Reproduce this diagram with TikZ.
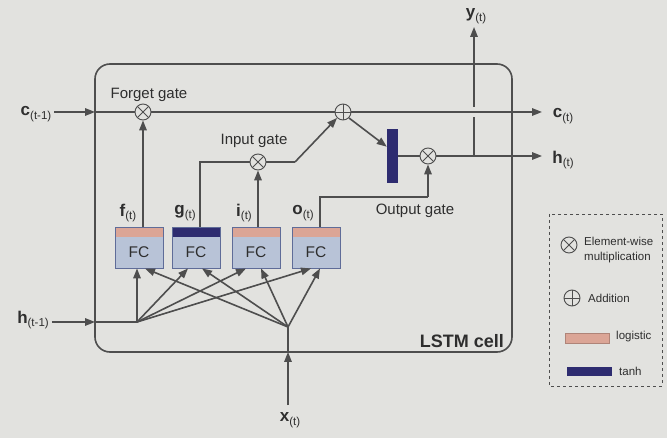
\documentclass[tikz,border=0pt]{standalone}
\usepackage{fontspec}
\setmainfont{Liberation Sans}
\usetikzlibrary{arrows.meta,calc}
\definecolor{bgc}{HTML}{E2E2DF}
\definecolor{linec}{HTML}{4E4E4E}
\definecolor{txtc}{HTML}{2E2E2E}
\definecolor{salmon}{HTML}{DBA596}
\definecolor{tanhc}{HTML}{2E2C70}
\definecolor{fcbody}{HTML}{B8C3D7}
\definecolor{fcedge}{HTML}{5F6C98}
\newcommand{\mylbl}[2]{{\fontsize{17}{17}\selectfont\bfseries #1}\raisebox{-0.7ex}{\fontsize{11.5}{11.5}\selectfont #2}}
\tikzset{
  wire/.style={draw=linec,line width=1.6pt},
  arr/.style={wire,-{Triangle[length=10pt,width=7.5pt]}},
  mult/.style={circle,draw=linec,line width=0.9pt,minimum size=16pt,inner sep=0pt,
    path picture={\draw[linec,line width=0.9pt] (path picture bounding box.north west)--(path picture bounding box.south east)
      (path picture bounding box.north east)--(path picture bounding box.south west);}},
  addop/.style={circle,draw=linec,line width=0.9pt,minimum size=16pt,inner sep=0pt,
    path picture={\draw[linec,line width=0.9pt] (path picture bounding box.north)--(path picture bounding box.south)
      (path picture bounding box.east)--(path picture bounding box.west);}},
  fcbox/.style={rectangle,draw=fcedge,line width=0.9pt,fill=fcbody,minimum width=48pt,minimum height=41pt,inner sep=0pt,
    path picture={\fill[#1] (path picture bounding box.north west) rectangle ($(path picture bounding box.north east)+(0pt,-10pt)$);}},
  fctext/.style={text=txtc,font=\fontsize{15.5}{15.5}\selectfont,inner sep=0pt},
  gatetext/.style={text=txtc,font=\fontsize{15}{16}\selectfont,inner sep=0pt},
  vlabel/.style={text=txtc,inner sep=0pt},
  legtext/.style={text=txtc,font=\fontsize{11.5}{15}\selectfont,inner sep=0pt,align=left},
}
\begin{document}
\begin{tikzpicture}[x=1pt,y=-1pt]
\fill[bgc] (0,0) rectangle (667,438);
\useasboundingbox (0,0) rectangle (667,438);

% LSTM cell
\draw[linec,line width=1.6pt,rounded corners=15pt] (95,64) rectangle (512,352);
\node[text=txtc,font=\fontsize{18}{18}\selectfont\bfseries,anchor=south east,inner sep=0pt] (celllbl) at (504,348) {LSTM cell};

% operators
\node[mult] (fx) at (143,112) {};
\node[addop] (add) at (343,112) {};
\node[mult] (ix) at (258,162) {};
\node[mult] (ox) at (428,156) {};
\node[rectangle,fill=tanhc,minimum width=11pt,minimum height=54pt,inner sep=0pt] (tanhbar) at (392.5,156) {};

\node[gatetext] (fgt) at (149,95) {Forget gate};
\node[gatetext] (igt) at (254,141) {Input gate};
\node[gatetext] (ogt) at (415,211) {Output gate};

% FC boxes
\node[fcbox=salmon] (fcf) at (139,247.5) {};
\node[fcbox=tanhc] (fcg) at (196,247.5) {};
\node[fcbox=salmon] (fci) at (256,247.5) {};
\node[fcbox=salmon] (fco) at (316,247.5) {};
\node[fctext] (tf) at ($(fcf.center)+(0pt,-5pt)$) {FC};
\node[fctext] (tg) at ($(fcg.center)+(0pt,-5pt)$) {FC};
\node[fctext] (ti) at ($(fci.center)+(0pt,-5pt)$) {FC};
\node[fctext] (to) at ($(fco.center)+(0pt,-5pt)$) {FC};

\node[vlabel] (lf) at (128,213) {\mylbl{f}{(t)}};
\node[vlabel] (lg) at (185,213) {\mylbl{g}{(t)}};
\node[vlabel] (li) at (244,213) {\mylbl{i}{(t)}};
\node[vlabel] (lo) at (303,213) {\mylbl{o}{(t)}};

% inputs / outputs labels
\node[vlabel] (cin) at (36,114) {\mylbl{c}{(t-1)}};
\node[vlabel] (hin) at (33,320) {\mylbl{h}{(t-1)}};
\node[vlabel] (xin) at (290,420) {\mylbl{x}{(t)}};
\node[vlabel] (cout) at (563,116) {\mylbl{c}{(t)}};
\node[vlabel] (hout) at (563,160) {\mylbl{h}{(t)}};
\node[vlabel] (yout) at (476,16) {\mylbl{y}{(t)}};

% coordinates
\coordinate (cinE) at (95,112);
\coordinate (hinE) at (95,322);
\coordinate (hj) at (137,322);
\coordinate (xbot) at (288,405);
\coordinate (xE) at (288,352);
\coordinate (xj) at (288,327);
\coordinate (gup) at (200,162);
\coordinate (ibend) at (295,162);
\coordinate (oup) at (320,197);
\coordinate (oright) at (428,197);
\coordinate (cend) at (542,112);
\coordinate (hend) at (542,156);
\coordinate (yj) at (474,156);
\coordinate (ygapb) at (474,117);
\coordinate (ygapt) at (474,107);
\coordinate (ytop) at (474,27);

% cell state line
\draw[arr] (cin.east |- cinE) ++(3,0) -- (cinE);
\draw[wire] (cinE) -- (fx.west);
\draw[wire] (fx.east) -- (add.west);
\draw[arr] (add.east) -- (cend);

% forget gate
\draw[arr] (fcf.north -| fx) -- (fx.south);
% input gate
\draw[wire] (fcg.north -| gup) -- (gup) -- (ix.west);
\draw[arr] (fci.north -| ix) -- (ix.south);
\draw[wire] (ix.east) -- (ibend);
\draw[arr] (ibend) -- (add.south west);
% output gate
\draw[arr] (add.south east) -- ($(tanhbar.north west)!0.33!(tanhbar.south west)$);
\draw[wire] (tanhbar.east) -- (ox.west);
\draw[wire] (fco.north -| oup) -- (oup) -- (oright);
\draw[arr] (oright) -- (ox.south);
\draw[arr] (ox.east) -- (hend);
% y output
\draw[wire] (yj) -- (ygapb);
\draw[arr] (ygapt) -- (ytop);

% h(t-1) input
\draw[arr] (hin.east |- hinE) ++(3,0) -- (hinE);
\draw[wire] (hinE) -- (hj);
\draw[arr] (hj) -- (fcf.south -| hj);
\draw[arr] (hj) -- (fcg.south -| 188,0);
\draw[arr] (hj) -- (fci.south -| 246,0);
\draw[arr] (hj) -- (fco.south -| 311,0);
% x input
\draw[arr] (xbot) -- (xE);
\draw[wire] (xE) -- (xj);
\draw[arr] (xj) -- (fcf.south -| 145,0);
\draw[arr] (xj) -- (fcg.south -| 202,0);
\draw[arr] (xj) -- (fci.south -| 261,0);
\draw[arr] (xj) -- (fco.south -| 320,0);

% legend
\draw[linec,line width=0.8pt,dashed] (549,214) rectangle (662,386);
\node[mult] (lgm) at (569,245) {};
\node[legtext,anchor=west] (lgmt) at (584,250) {Element-wise\\multiplication};
\node[addop] (lga) at (572,298) {};
\node[legtext,anchor=west] (lgat) at (588,298) {Addition};
\node[rectangle,fill=salmon,draw=salmon!80!black,line width=0.4pt,minimum width=44pt,minimum height=10pt,inner sep=0pt] (lgs) at (587,338) {};
\node[legtext,anchor=west] (lgst) at (616,337) {logistic};
\node[rectangle,fill=tanhc,minimum width=45pt,minimum height=9pt,inner sep=0pt] (lgt) at (589,372) {};
\node[legtext,anchor=west] (lgtt) at (619,371) {tanh};
\end{tikzpicture}
\end{document}
